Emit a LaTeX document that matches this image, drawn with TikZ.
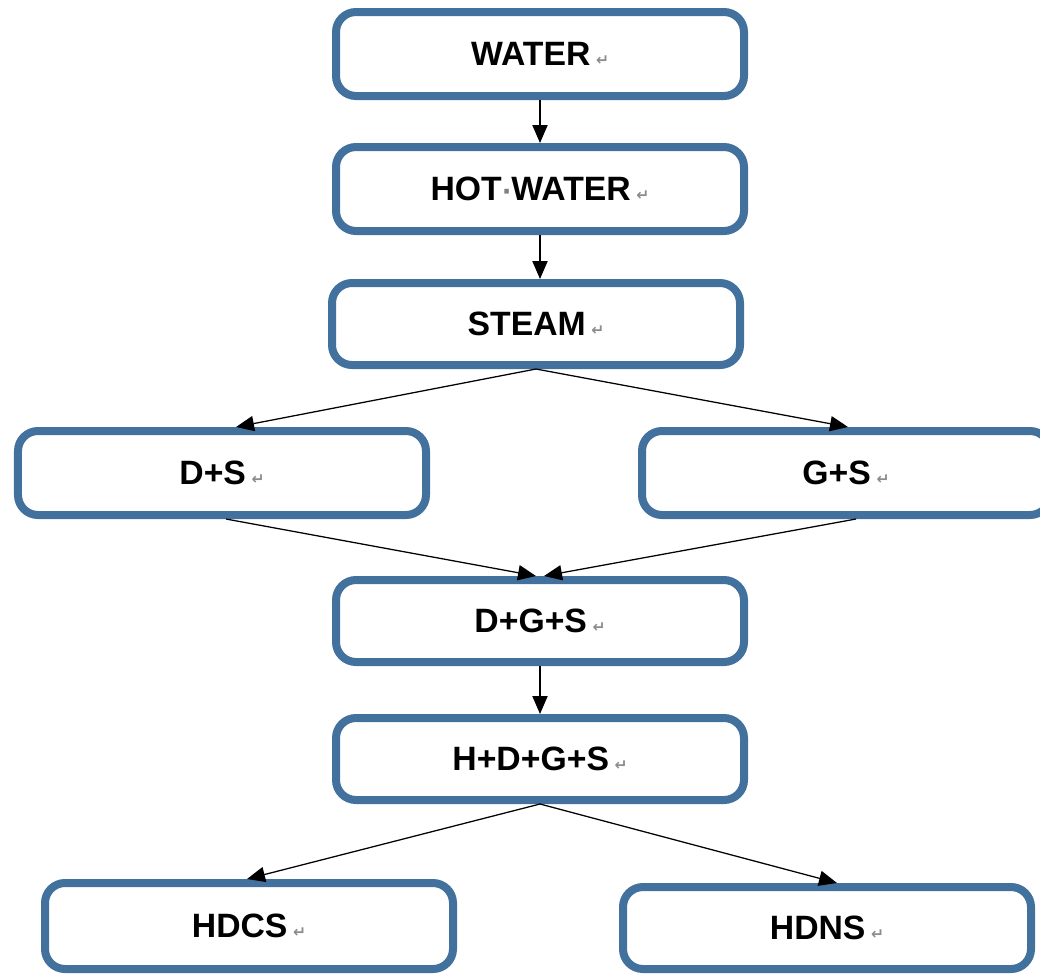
\documentclass[tikz,border=0pt]{standalone}
\usepackage{fontspec}
\setmainfont{Liberation Sans}
\newfontfamily\markfont{DejaVu Sans}
\usepackage{tikz}
\usetikzlibrary{positioning,arrows.meta}
\definecolor{boxblue}{RGB}{65,113,156}
\tikzstyle{line} = [draw, line width=0.9pt, -{Triangle[length=0.45cm,width=0.38cm]}]
\tikzstyle{stepbox} = [rectangle, rounded corners=0.5cm, draw=boxblue, line width=0.2cm, fill=white,
  minimum width=10.2cm, minimum height=2.1cm, font=\fontsize{24}{28}\selectfont\bfseries]
\newcommand{\pmark}{\,{\markfont\fontsize{11}{12}\selectfont\color{black!45}\char"21B5}}
\newcommand{\smark}{{\markfont\fontsize{18}{20}\selectfont\color{black!50}\char"00B7}}

\begin{document}
\begin{tikzpicture}[node distance=1.1cm, align=center]
\useasboundingbox (0,0) rectangle (26,-24.35);

\node (water) [stepbox] at (13.5,-1.35) {WATER\pmark};

\node (hotwater) [stepbox,below=1.075cm of water] {HOT\smark WATER\pmark};
\path [line] (water) -- (hotwater);

\node (steam) [stepbox,below=1.1cm of hotwater,xshift=-0.1cm,minimum height=2.05cm] {STEAM\pmark};
\path [line] (hotwater.south) -- (hotwater.south |- steam.north);

\node (ds) [stepbox,below=1.45cm of steam,xshift=-7.85cm] {D+S\pmark};
\path [line] (steam.south) -- ([xshift=0.35cm]ds.north);

\node (gs) [stepbox,below=1.45cm of steam,xshift=7.75cm] {G+S\pmark};
\path [line] (steam.south) -- ([xshift=0.05cm]gs.north);

\node (dgs) [stepbox,below=5.175cm of steam,xshift=0.1cm,minimum height=2.05cm] {D+G+S\pmark};
\path [line] ([xshift=0.1cm]ds.south) -- ([xshift=-0.1cm]dgs.north);
\path [line] ([xshift=0.25cm]gs.south) -- ([xshift=0.1cm]dgs.north);

\node (hdgs) [stepbox,below=1.2cm of dgs,minimum height=2.05cm] {H+D+G+S\pmark};
\path [line] (dgs) -- (hdgs);

\node (hdcs) [stepbox,below=1.875cm of hdgs,xshift=-7.275cm,minimum height=2.15cm] {HDCS\pmark};
\path [line] (hdgs.south) -- ([xshift=-0.05cm]hdcs.north);

\node (hdns) [stepbox,below=1.975cm of hdgs,xshift=7.175cm,minimum height=2.05cm] {HDNS\pmark};
\path [line] (hdgs.south) -- ([xshift=0.25cm]hdns.north);

\end{tikzpicture}
\end{document}
